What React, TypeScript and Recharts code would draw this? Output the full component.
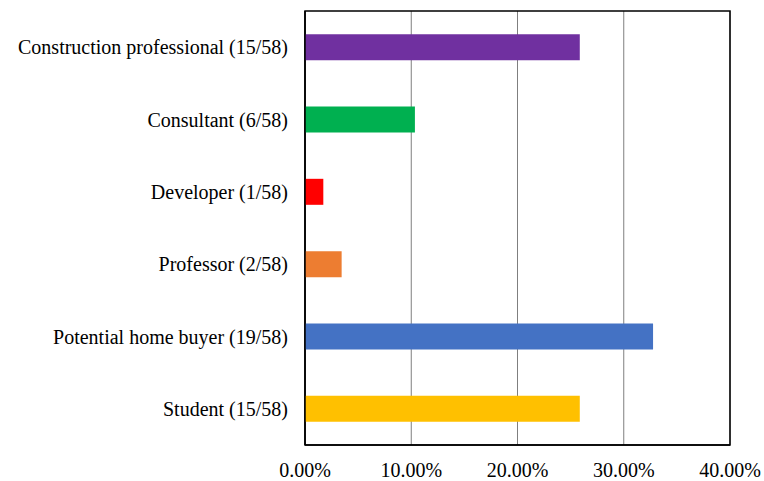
import { Bar, BarChart, CartesianGrid, Cell, ReferenceArea, XAxis, YAxis } from "recharts";

const categories = [
  "Construction professional (15/58)",
  "Consultant (6/58)",
  "Developer (1/58)",
  "Professor (2/58)",
  "Potential home buyer (19/58)",
  "Student (15/58)",
];
const shares = [15 / 58, 6 / 58, 1 / 58, 2 / 58, 19 / 58, 15 / 58];
const colors = ["#7030A0", "#00B050", "#FF0000", "#ED7D31", "#4472C4", "#FFC000"];
const xTicks = [0, 0.1, 0.2, 0.3, 0.4];

const data = categories.map((name, i) => ({ name, value: shares[i] }));

const FONT = "'Liberation Serif', 'Times New Roman', serif";

const XTick = ({ x, y, payload }: any) => (
  <text x={x} y={y + 30} textAnchor="middle" fontFamily={FONT} fontSize={20} fill="#000">
    {`${(payload.value * 100).toFixed(2)}%`}
  </text>
);

const YTick = ({ x, y, payload }: any) => (
  <text x={x - 15} y={y + 7} textAnchor="end" fontFamily={FONT} fontSize={20} fill="#000">
    {payload.value}
  </text>
);

export default function App() {
  return (
    <div style={{ position: "absolute", left: 0, top: 0, width: 764, height: 481, background: "#fff" }}>
      <BarChart
        width={764}
        height={481}
        data={data}
        layout="vertical"
        margin={{ top: 11, right: 34, bottom: 0, left: 0 }}
        barCategoryGap="32%"
        style={{ overflow: "visible" }}
      >
        <CartesianGrid vertical horizontal={false} stroke="#7f7f7f" />
        <XAxis
          type="number"
          domain={[0, 0.4]}
          ticks={xTicks}
          tick={<XTick />}
          tickLine={false}
          tickSize={0}
          axisLine={{ stroke: "#000", strokeWidth: 1.5 }}
          height={36}
          interval={0}
        />
        <YAxis
          type="category"
          dataKey="name"
          width={305}
          tick={<YTick />}
          tickLine={false}
          tickSize={0}
          axisLine={{ stroke: "#000", strokeWidth: 1.5 }}
          interval={0}
        />
        <ReferenceArea x1={0} x2={0.4} fill="none" stroke="#000" strokeWidth={1.5} fillOpacity={0} />
        <Bar dataKey="value" isAnimationActive={false}>
          {data.map((d, i) => (
            <Cell key={d.name} fill={colors[i]} />
          ))}
        </Bar>
      </BarChart>
    </div>
  );
}
